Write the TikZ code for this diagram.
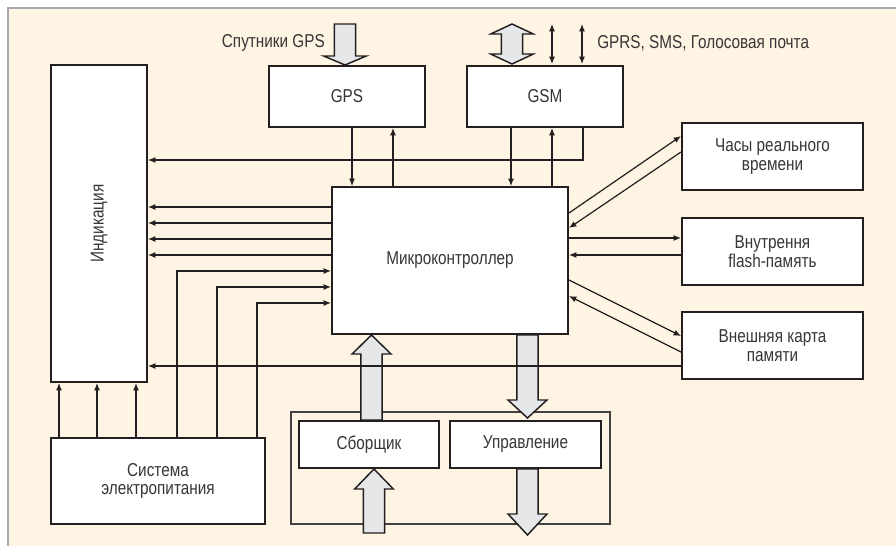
\documentclass[tikz,border=0pt]{standalone}
\usepackage{graphicx}
\usepackage{fontspec}
\setmainfont{Liberation Sans}[FakeStretch=0.82]
\usetikzlibrary{arrows.meta,calc}
\definecolor{cream}{HTML}{FDF4E3}
\definecolor{ink}{HTML}{231F20}
\definecolor{fatgray}{HTML}{E6E7E8}
\definecolor{rim}{HTML}{A7A9AC}
% single fat vertical arrow: start, tip, signed head length, head half width
\newcommand{\fatv}[4]{%
 \coordinate (fs) at (#1);
 \coordinate (ft) at (#2);
 \draw[fat] let \p1=(fs), \p2=(ft) in
 (\x2-8pt,\y1) -- (\x2+8pt,\y1) -- (\x2+8pt,\y2+#3) -- (\x2+#4,\y2+#3) -- (\x2,\y2)
 -- (\x2-#4,\y2+#3) -- (\x2-8pt,\y2+#3) -- cycle;}
% double fat vertical arrow: top tip, bottom tip, head length, head half width
\newcommand{\fatvv}[4]{%
 \coordinate (fs) at (#1);
 \coordinate (ft) at (#2);
 \draw[fat] let \p1=(fs), \p2=(ft) in
 (\x1,\y1) -- (\x1+#4,\y1-#3) -- (\x1+8pt,\y1-#3) -- (\x1+8pt,\y2+#3) -- (\x1+#4,\y2+#3)
 -- (\x1,\y2) -- (\x1-#4,\y2+#3) -- (\x1-8pt,\y2+#3) -- (\x1-8pt,\y1-#3) -- (\x1-#4,\y1-#3) -- cycle;}
\tikzset{
 box/.style={draw=ink, line width=1.5pt, fill=white, inner sep=0pt, align=center,
   font=\fontsize{14}{14}\selectfont, text=ink!90},
 lbl/.style={inner sep=0pt, font=\fontsize{14}{14}\selectfont, text=ink!90},
 arr/.style={draw=ink, line width=0.9pt, -{Latex[length=5.5pt,width=4.5pt]}},
 dbl/.style={draw=ink, line width=0.9pt, {Latex[length=5.5pt,width=4.5pt]}-{Latex[length=5.5pt,width=4.5pt]}},
 fat/.style={draw=ink, line width=1.1pt, fill=fatgray, line join=miter},
 thinbox/.style={draw=ink!85, line width=0.8pt}
}
\begin{document}
\begin{tikzpicture}[x=0.75pt,y=-0.75pt]
\useasboundingbox (0,0) rectangle (896,546);
\fill[white] (0,0) rectangle (896,546);
\fill[cream] (8,8) rectangle (896,546);
\draw[rim, line width=1.5pt] (8,546) -- (8,8) -- (896,8);

% outer group box
\draw[thinbox] (291,412) rectangle (610,524);

% node geometry (for anchors)
\path
 node[box, minimum width=72pt, minimum height=237.75pt] (ind) at (99,223.5) {}
 node[box, minimum width=117pt, minimum height=45.75pt] (gps) at (347,96.5) {}
 node[box, minimum width=117pt, minimum height=45.75pt] (gsm) at (545,96.5) {}
 node[box, minimum width=177pt, minimum height=110.25pt] (mc) at (450,260.5) {}
 node[box, minimum width=135.75pt, minimum height=50.25pt] (clock) at (772.5,156.5) {}
 node[box, minimum width=135.75pt, minimum height=50.25pt] (flash) at (772.5,251.5) {}
 node[box, minimum width=135.75pt, minimum height=50.25pt] (ext) at (772.5,345.5) {}
 node[box, minimum width=160.5pt, minimum height=64.5pt] (pwr) at (158,481) {}
 node[box, minimum width=105pt, minimum height=35.25pt] (sb) at (369,444.5) {}
 node[box, minimum width=113.25pt, minimum height=35.25pt] (upr) at (525.5,444.5) {};

% fat arrows
\fatv{$(gps.north west)+(77,-41)$}{$(gps.north west)+(77,0)$}{6.75pt}{16pt}
\fatvv{$(gsm.north west)+(46,-41)$}{$(gsm.north west)+(46,-1)$}{7.5pt}{16pt}
\fatv{$(sb.north west)+(73.5,0)$}{$(mc.south west)+(40.5,0)$}{-14.25pt}{14.6pt}
\fatv{$(sb.south west)+(76,64)$}{$(sb.south west)+(76,0)$}{-15pt}{14.5pt}
\fatv{$(mc.south west)+(196.5,0)$}{$(upr.north west)+(78.5,-2)$}{13.5pt}{14.6pt}
\fatv{$(upr.south west)+(78.5,0)$}{$(upr.south west)+(78.5,66)$}{15.75pt}{14.6pt}

% boxes with text (drawn on top of the fat arrows)
\node[box, minimum width=72pt, minimum height=237.75pt] at (ind) {\rotatebox{90}{Индикация}};
\node[box, minimum width=117pt, minimum height=45.75pt] at (gps) {GPS};
\node[box, minimum width=117pt, minimum height=45.75pt] at (gsm) {GSM};
\node[box, minimum width=177pt, minimum height=110.25pt] at (mc) {Микроконтроллер};
\node[box, minimum width=135.75pt, minimum height=50.25pt] at (clock) {Часы реального\\времени};
\node[box, minimum width=135.75pt, minimum height=50.25pt] at (flash) {Внутрення\\flash-память};
\node[box, minimum width=135.75pt, minimum height=50.25pt] at (ext) {Внешняя карта\\памяти};
\node[box, minimum width=160.5pt, minimum height=64.5pt] at (pwr) {Система\\электропитания};
\node[box, minimum width=105pt, minimum height=35.25pt] at (sb) {Сборщик};
\node[box, minimum width=113.25pt, minimum height=35.25pt] at (upr) {Управление};

% labels
\node[lbl, anchor=east] (satl) at (325,43) {Спутники GPS};
\node[lbl, anchor=west] (gprsl) at (597,43) {GPRS, SMS, Голосовая почта};

% GPS <-> MC
\draw[arr] ($(gps.south west)+(84,0)$) coordinate (t) -- (mc.north -| t);
\draw[arr] ($(mc.north west)+(62,0)$) coordinate (t) -- (gps.south -| t);
% GSM <-> MC
\draw[arr] ($(gsm.south west)+(45,0)$) coordinate (t) -- (mc.north -| t);
\draw[arr] ($(mc.north west)+(221,0)$) coordinate (t) -- (gsm.south -| t);
\draw[arr] ($(gsm.south west)+(117,0)$) |- ($(ind.north east)+(0,96)$);
% GSM external thin double arrows
\draw[dbl] ($(gsm.north west)+(86,-41)$) -- ($(gsm.north west)+(86,-1)$);
\draw[dbl] ($(gsm.north west)+(116,-41)$) -- ($(gsm.north west)+(116,-1)$);
% MC -> indication
\foreach \d in {21,37,53,69}
  \draw[arr] ($(mc.north west)+(0,\d)$) coordinate (t) -- (ind.east |- t);
% power -> MC
\foreach \dx/\dy in {127/85,167/101,207/117}
  \draw[arr] ($(pwr.north west)+(\dx,0)$) |- ($(mc.north west)+(0,\dy)$);
% power -> indication
\foreach \dx in {9,47,86}
  \draw[arr] ($(pwr.north west)+(\dx,0)$) coordinate (t) -- (ind.south -| t);
% external card -> indication
\draw[arr] ($(ext.north west)+(0,55)$) coordinate (t) -- (ind.east |- t);
% MC <-> clock
\draw[arr] ($(mc.north east)+(0,27)$) -- ($(clock.north west)+(0,14)$);
\draw[arr] ($(clock.north west)+(0,30)$) -- ($(mc.north east)+(0,42)$);
% MC <-> flash
\draw[arr] ($(mc.north east)+(0,52)$) -- ($(flash.north west)+(0,21)$);
\draw[arr] ($(flash.north west)+(0,38)$) -- ($(mc.north east)+(0,69)$);
% MC <-> external card
\draw[arr] ($(mc.north east)+(0,94)$) -- ($(ext.north west)+(0,25)$);
\draw[arr] ($(ext.north west)+(0,41)$) -- ($(mc.north east)+(0,110)$);
\end{tikzpicture}
\end{document}
